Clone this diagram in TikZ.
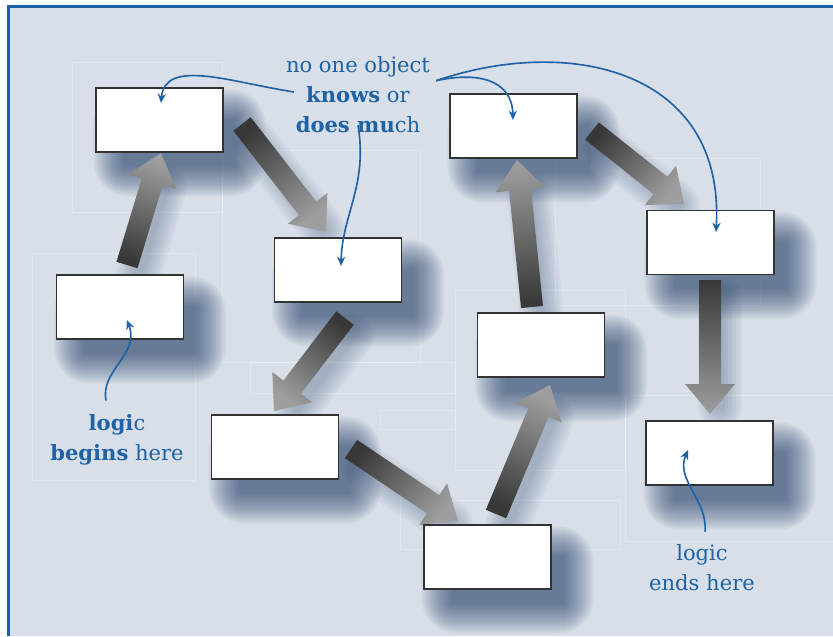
\documentclass[tikz,border=0pt]{standalone}
\usepackage{fontspec}
\setmainfont{DejaVu Serif}
\usetikzlibrary{calc,arrows.meta}
\definecolor{bgblue}{RGB}{216,223,232}
\definecolor{frameblue}{RGB}{26,95,168}
\definecolor{noteblue}{RGB}{31,98,166}
\definecolor{shadenavy}{RGB}{28,56,96}
\pgfdeclarelayer{back}
\pgfdeclarelayer{shade}
\pgfsetlayers{back,shade,main}
\def\boxshadow(#1){\foreach \r in {0,2,...,30}{\fill[shadenavy, opacity=0.05, rounded corners=\r pt] ($(#1.north west)+(28-\r,32-\r)$) rectangle ($(#1.south east)+(12+\r,14+\r)$);}}
\def\arrowshadow(#1)(#2){\foreach \w in {8,13,...,40}{\draw[shadenavy, opacity=0.045, line width=\w pt, line cap=round, shorten <=4pt, shorten >=18pt] ($(#1)+(10,14)$) -- ($(#2)+(10,14)$);}}
\def\blockarrow(#1)(#2){%
  \pgfmathanglebetweenpoints{\pgfpointanchor{#2}{center}}{\pgfpointanchor{#1}{center}}
  \pgfmathsetmacro\arrang{\pgfmathresult-90}
  \coordinate (hb) at ($(#2)!0.9cm!(#1)$);
  \shade[top color=black!78, bottom color=black!38, shading angle=\arrang]
    ($(#1)!0.33cm!90:(#2)$) -- ($(hb)!0.33cm!90:(#2)$) -- ($(hb)!0.75cm!90:(#2)$) -- (#2)
    -- ($(hb)!0.75cm!-90:(#2)$) -- ($(hb)!0.33cm!-90:(#2)$) -- ($(#1)!0.33cm!-90:(#2)$) -- cycle;}

\tikzset{
  box/.style={draw=black!80, line width=0.9pt, fill=white, minimum width=3.81cm, minimum height=1.92cm, inner sep=0pt},
  note/.style={text=noteblue, font=\fontsize{18}{25.6}\selectfont, align=center},
  pointer/.style={draw=noteblue, line width=1.4pt, -{Stealth[length=8pt,width=7pt]}},
  gridline/.style={draw=white, opacity=0.25, line width=0.5pt}
}

\begin{document}
\begin{tikzpicture}[x=0.03cm, y=-0.03cm]
  %%%%% START %%%%%
  \useasboundingbox (0,0) rectangle (833,636);

  % boxes
  \node[box] (b1) at (159.5,120) {};
  \node[box] (b2) at (338,270) {};
  \node[box] (b3) at (120,307) {};
  \node[box] (b4) at (513.5,126) {};
  \node[box] (b5) at (710.5,242.5) {};
  \node[box] (b6) at (541,345) {};
  \node[box] (b7) at (275,447) {};
  \node[box] (b8) at (709.5,453) {};
  \node[box] (b9) at (487.5,557) {};

  % arrow ends
  \coordinate (t1) at (127,265); \coordinate (h1) at (161,153);
  \coordinate (t2) at (242,124); \coordinate (h2) at (326,232);
  \coordinate (t3) at (345,318); \coordinate (h3) at (274,411);
  \coordinate (t4) at (351,449); \coordinate (h4) at (458,521);
  \coordinate (t5) at (496,514); \coordinate (h5) at (550,385);
  \coordinate (t6) at (532,307); \coordinate (h6) at (517,160);
  \coordinate (t7) at (592,131); \coordinate (h7) at (684,204);
  \coordinate (t8) at (710,280); \coordinate (h8) at (710,414);

  \begin{pgfonlayer}{back}
    \fill[white] (0,0) rectangle (833,636);
    \fill[bgblue] (7,5) rectangle (833,636);
    \draw[gridline] (72,62) rectangle (222,212);
    \draw[gridline] (32,253) rectangle (195,480);
    \draw[gridline] (222,150) rectangle (420,362);
    \draw[gridline] (250,362) rectangle (455,393);
    \draw[gridline] (380,410) rectangle (455,429);
    \draw[gridline] (400,500) rectangle (620,549);
    \draw[gridline] (555,158) rectangle (760,305);
    \draw[gridline] (625,395) rectangle (833,541);
    \draw[gridline] (455,290) rectangle (625,470);
    \draw[frameblue, line width=2.6pt] (7,6.5) -- (833,6.5);
    \draw[frameblue, line width=2.6pt] (8.5,5) -- (8.5,636);
  \end{pgfonlayer}

  \begin{pgfonlayer}{shade}
    \foreach \b in {b1,b2,b3,b4,b5,b6,b7,b8,b9}{\boxshadow(\b)}
    \foreach \k in {1,...,8}{\arrowshadow(t\k)(h\k)}
    \foreach \k in {1,...,8}{\blockarrow(t\k)(h\k)}
  \end{pgfonlayer}

  % notes
  \node[note] (objtext) at (358,95) {no one object\\\textbf{knows} or\\\textbf{does mu}ch};
  \node[note] (begtext) at (117,440) {\textbf{logi}c\\\textbf{begins} here};
  \node[note] (endtext) at (702,568) {logic\\ends here};

  \coordinate (p1) at (161,103);
  \coordinate (p2) at (341,266);
  \coordinate (p3) at (513,120);
  \coordinate (p4) at (716,232);
  \coordinate (p5) at (127,320);
  \coordinate (p6) at (688,450);

  \draw[pointer] ($(objtext.west)+(12,-3)$) .. controls (230,82) and (165,58) .. (p1);
  \draw[pointer] ($(objtext.south)+(0,-12)$) .. controls (368,185) and (342,215) .. (p2);
  \draw[pointer] ($(objtext.north east)+(2,28)$) .. controls (475,72) and (512,78) .. (p3);
  \draw[pointer] ($(objtext.north east)+(2,28)$) .. controls (570,35) and (725,70) .. (p4);
  \draw[pointer] ($(begtext.north)+(-11,-10)$) .. controls (100,370) and (140,355) .. (p5);
  \draw[pointer] ($(endtext.north)+(3,-9)$) .. controls (708,500) and (675,480) .. (p6);
  %%%%% END %%%%%
\end{tikzpicture}
\end{document}
